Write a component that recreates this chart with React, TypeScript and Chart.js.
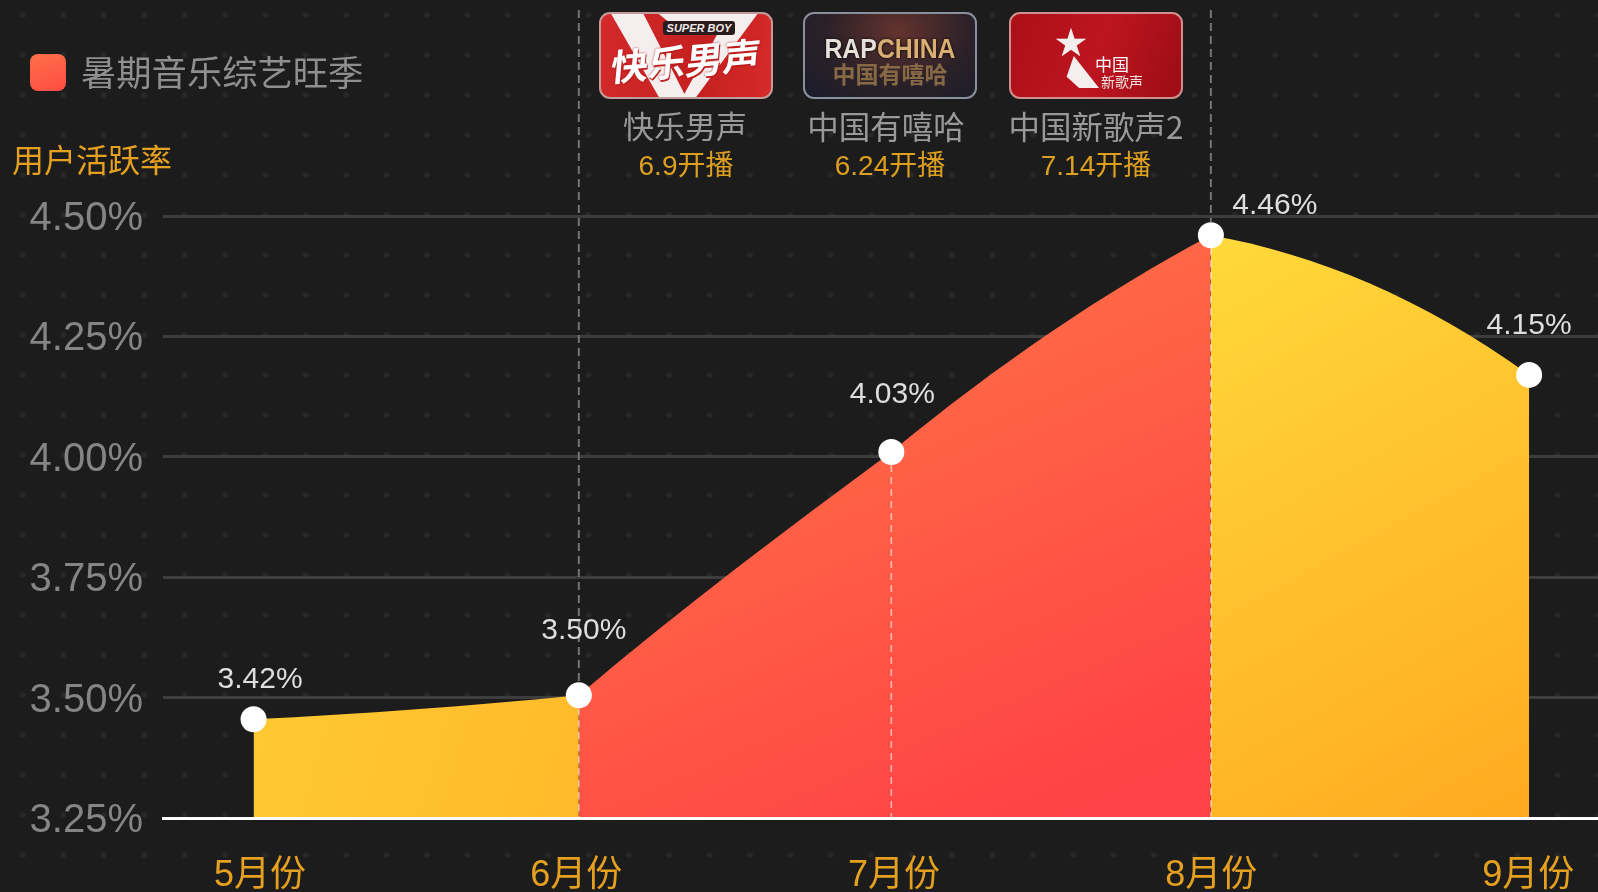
import React, { useEffect, useRef } from "react";
import { Chart, registerables } from "chart.js";

Chart.register(...registerables);

// ---- data ----
const categories = ["5月份", "6月份", "7月份", "8月份", "9月份"];
const monthPositions = [5, 6.02, 7, 8.002, 9];
const tickPositions = [5.02, 6.012, 7.008, 8.003, 8.997];
const activeRates = [3.455, 3.505, 4.01, 4.46, 4.17];
const rateLabels = ["3.42%", "3.50%", "4.03%", "4.46%", "4.15%"];
const shows = ["快乐男声", "中国有嘻哈", "中国新歌声2"];
const showDates = ["6.9开播", "6.24开播", "7.14开播"];
const legendLabel = "暑期音乐综艺旺季";
const yAxisTitle = "用户活跃率";

// ---- curve shape: slope of the area's edge arriving at / leaving each point ----
const slopeIn = [0, -0.1, -0.74, -0.53, 0.72];
const slopeOut = [-0.05, -0.85, -0.82, 0.18, 0];

// ---- layout ----
const labelOffsets = [[6.5, -40], [5, -64], [1, -57], [64, -30], [0, -49]];
const NUM = '"Liberation Sans", "Noto Sans CJK SC", sans-serif';
const CJK = '"Noto Sans CJK SC", sans-serif';

const curvePlugin = {
  id: "curve",
  afterDatasetsUpdate(chart: any) {
    const meta = chart.getDatasetMeta(0);
    const pts = meta.data;
    pts.forEach((p: any, i: number) => {
      const prev = pts[i - 1];
      const next = pts[i + 1];
      const dxP = prev ? (p.x - prev.x) / 3 : 0;
      const dxN = next ? (next.x - p.x) / 3 : 0;
      p.cp1x = p.x - dxP;
      p.cp1y = p.y - dxP * slopeIn[i];
      p.cp2x = p.x + dxN;
      p.cp2y = p.y + dxN * slopeOut[i];
    });
    meta.dataset._pointsUpdated = true;
  },
};

const overlayPlugin = {
  id: "overlay",
  afterDatasetsDraw(chart: any) {
    const { ctx, scales } = chart;
    const pts = chart.getDatasetMeta(0).data;
    const base = scales.y.getPixelForValue(3.25);
    const R = 13;
    ctx.save();
    [
      [1, true],
      [2, false],
      [3, true],
    ].forEach(([i, up]: any) => {
      const p = pts[i];
      if (up) {
        ctx.lineWidth = 2;
        ctx.setLineDash([8, 5]);
        ctx.strokeStyle = "#747474";
        ctx.beginPath();
        ctx.moveTo(p.x, 10);
        ctx.lineTo(p.x, p.y - R);
        ctx.stroke();
      }
      ctx.lineWidth = 1.5;
      ctx.setLineDash([7, 5]);
      ctx.strokeStyle = "rgba(255,255,255,0.6)";
      ctx.beginPath();
      ctx.moveTo(p.x, p.y + R);
      ctx.lineTo(p.x, base);
      ctx.stroke();
    });
    ctx.setLineDash([]);
    ctx.fillStyle = "#dedede";
    ctx.font = `30px ${NUM}`;
    ctx.textAlign = "center";
    ctx.textBaseline = "middle";
    rateLabels.forEach((t, i) => {
      ctx.fillText(t, pts[i].x + labelOffsets[i][0], pts[i].y + labelOffsets[i][1]);
    });
    ctx.restore();
  },
};

const abs = (o: React.CSSProperties): React.CSSProperties => ({ position: "absolute", ...o });

function centerText(text: string, cx: number, cy: number, size: number, color: string, font = CJK) {
  return (
    <div
      key={text}
      style={abs({
        left: cx - 150,
        width: 300,
        top: cy - size,
        height: size * 2,
        lineHeight: `${size * 2}px`,
        textAlign: "center",
        fontSize: size,
        color,
        fontFamily: font,
        whiteSpace: "nowrap",
      })}
    >
      {text}
    </div>
  );
}

const posterBase: React.CSSProperties = {
  position: "absolute",
  top: 12,
  width: 174,
  height: 87,
  borderRadius: 11,
  border: "2px solid #c49a9a",
  overflow: "hidden",
  boxSizing: "border-box",
};
const full: React.CSSProperties = { position: "absolute", left: 0, top: 0, width: "100%", height: "100%" };

function Posters() {
  return (
    <>
      <div style={{ ...posterBase, left: 599, background: "linear-gradient(100deg,#d32a2c,#c4201f 60%,#d62b2a)" }}>
        <div style={{ ...full, background: "#f4eeee", clipPath: "polygon(6% 0,25% 0,50% 100%,34% 100%)" }} />
        <div style={{ ...full, background: "#f4eeee", clipPath: "polygon(75% 0,92% 0,56% 100%,48% 100%)" }} />
        <div style={{ ...full, background: "#f4eeee", clipPath: "polygon(34% 0,90% 0,84% 10%,40% 10%)" }} />
        <div style={abs({ left: 62, top: 7, width: 72, height: 14, lineHeight: "14px", borderRadius: 3, background: "#2a1c1c", color: "#f2eaea", fontSize: 11, fontWeight: 700, fontStyle: "italic", textAlign: "center", fontFamily: NUM, whiteSpace: "nowrap" })}>SUPER BOY</div>
        <div style={abs({ left: 0, top: 20, width: "100%", lineHeight: "50px", color: "#fff", fontSize: 37, fontWeight: 700, textAlign: "center", fontFamily: CJK, whiteSpace: "nowrap", transform: "skewX(-10deg) rotate(-5deg)", textShadow: "0 0 2px #b01818, 1px 2px 0 #c02020" })}>快乐男声</div>
      </div>
      <div style={{ ...posterBase, left: 803, background: "radial-gradient(ellipse at 55% 20%,#64332e,#2b2128 55%,#1a1c2a 100%)", borderColor: "#8a8f9c" }}>
        <div style={abs({ left: 0, top: 21, width: "100%", textAlign: "center", color: "#e6e2da", fontSize: 27, lineHeight: "28px", fontWeight: 700, fontFamily: NUM, whiteSpace: "nowrap", transform: "scaleX(0.92)", textShadow: "0 0 3px #000" })}>RAP<span style={{ color: "#d8ae72" }}>CHINA</span></div>
        <div style={abs({ left: 0, top: 44, width: "100%", textAlign: "center", color: "#876a45", fontSize: 23, lineHeight: "30px", fontWeight: 700, fontFamily: CJK, whiteSpace: "nowrap" })}>中国有嘻哈</div>
      </div>
      <div style={{ ...posterBase, left: 1009, background: "linear-gradient(110deg,#ac0f18,#bd1520 50%,#9c0c14)", borderColor: "#cf8f8f" }}>
        <div style={abs({ left: 44, top: 8, fontSize: 32, lineHeight: "36px", color: "#f4eeee", fontFamily: CJK })}>★</div>
        <div style={abs({ left: 52, top: 42, width: 36, height: 32, background: "#f4eeee", clipPath: "polygon(30% 0,100% 100%,45% 100%,10% 65%)" })} />
        <div style={abs({ left: 84, top: 40, fontSize: 17, lineHeight: "20px", color: "#fff", fontFamily: CJK, whiteSpace: "nowrap" })}>中国</div>
        <div style={abs({ left: 90, top: 58, fontSize: 14, lineHeight: "18px", color: "#f0e0e0", fontFamily: CJK, whiteSpace: "nowrap" })}>新歌声</div>
      </div>
    </>
  );
}

export default function App() {
  const ref = useRef<HTMLCanvasElement>(null);

  useEffect(() => {
    document.body.style.margin = "0";
    const grads: Record<string, CanvasGradient> = {};
    const segFill = (c: any) => {
      const chart = c.chart;
      const i = c.p0DataIndex;
      const key = i === 0 ? "a" : i === 3 ? "c" : "b";
      if (!grads[key]) {
        const { x, y } = chart.scales;
        const base = y.getPixelForValue(3.25);
        const top = y.getPixelForValue(activeRates[3]);
        const px = (k: number) => x.getPixelForValue(monthPositions[k]);
        let g: CanvasGradient;
        if (key === "a") {
          g = chart.ctx.createLinearGradient(px(0), y.getPixelForValue(activeRates[0]), px(1), base);
          g.addColorStop(0, "#ffc932");
          g.addColorStop(1, "#ffba2a");
        } else if (key === "b") {
          g = chart.ctx.createLinearGradient(px(3) - 410, top + 15, px(3) - 160, base);
          g.addColorStop(0, "#ff7346");
          g.addColorStop(1, "#ff4245");
        } else {
          g = chart.ctx.createLinearGradient(px(3), top, px(4), base);
          g.addColorStop(0, "#ffd93a");
          g.addColorStop(1, "#ffaa20");
        }
        grads[key] = g;
      }
      return grads[key];
    };

    const chart = new Chart(ref.current!, {
      type: "line",
      data: {
        datasets: [
          {
            data: activeRates.map((v, i) => ({ x: monthPositions[i], y: v })),
            fill: "start",
            tension: 0.3,
            borderWidth: 0,
            borderColor: "rgba(0,0,0,0)",
            backgroundColor: "#ffc030",
            pointRadius: 13,
            pointBackgroundColor: "#ffffff",
            pointBorderWidth: 0,
            clip: false,
            segment: { backgroundColor: segFill },
          } as any,
        ],
      },
      options: {
        responsive: false,
        animation: false,
        events: [],
        layout: { autoPadding: false, padding: { top: 216, left: 0, right: 0, bottom: 0 } },
        plugins: { legend: { display: false }, tooltip: { enabled: false } },
        scales: {
          x: {
            type: "linear",
            min: 4.716,
            max: 9.216,
            afterBuildTicks: (s: any) => {
              s.ticks = tickPositions.map((value) => ({ value }));
            },
            afterFit: (s: any) => {
              s.height = 74;
              s.paddingLeft = 0;
              s.paddingRight = 0;
            },
            grid: { display: false },
            border: { display: true, color: "#ffffff", width: 3, z: 1 },
            ticks: {
              autoSkip: false,
              maxRotation: 0,
              padding: 28,
              color: "#e5a020",
              font: { family: NUM, size: 36 },
              callback: (_v: any, i: number) => categories[i],
            },
          },
          y: {
            min: 3.25,
            max: 4.5,
            afterFit: (s: any) => {
              s.width = 163;
              s.paddingTop = 0;
              s.paddingBottom = 0;
            },
            grid: {
              drawTicks: false,
              lineWidth: 3,
              color: (c: any) => (c.tick && c.tick.value === 3.25 ? "rgba(0,0,0,0)" : "#3d3d3d"),
            },
            border: { display: false },
            ticks: {
              stepSize: 0.25,
              padding: 20,
              labelOffset: 3,
              color: "#858585",
              font: { family: NUM, size: 40 },
              callback: (v: any) => Number(v).toFixed(2) + "%",
            },
          },
        },
      },
      plugins: [curvePlugin, overlayPlugin],
    } as any);
    return () => chart.destroy();
  }, []);

  return (
    <div
      style={{
        position: "fixed",
        left: 0,
        top: 0,
        width: 1598,
        height: 892,
        overflow: "hidden",
        backgroundColor: "#1c1c1c",
        backgroundImage: "radial-gradient(circle, #282828 0, #282828 2px, rgba(0,0,0,0) 3.5px)",
        backgroundSize: "40.4px 40px",
        backgroundPosition: "2.8px -5px",
      }}
    >
      <canvas ref={ref} width={1598} height={892} style={{ position: "absolute", left: 0, top: 0, display: "block" }} />
      <div style={abs({ left: 30, top: 54, width: 36, height: 37, borderRadius: 8, background: "linear-gradient(160deg,#ff7048,#ff4c44)" })} />
      <div style={abs({ left: 81, top: 49, height: 44, lineHeight: "44px", fontSize: 35.3, color: "#8f8f8f", fontFamily: CJK, whiteSpace: "nowrap" })}>{legendLabel}</div>
      <div style={abs({ left: 12, top: 138, height: 40, lineHeight: "40px", fontSize: 32, color: "#e5a020", fontFamily: CJK, whiteSpace: "nowrap" })}>{yAxisTitle}</div>
      <Posters />
      {centerText(shows[0], 685, 125, 31, "#999999")}
      {centerText(shows[1], 886, 125, 31.5, "#999999")}
      {centerText(shows[2], 1096, 125, 31.5, "#999999")}
      {centerText(showDates[0], 686, 166, 28, "#dd9f20", NUM)}
      {centerText(showDates[1], 890, 166, 28, "#dd9f20", NUM)}
      {centerText(showDates[2], 1096, 166, 28, "#dd9f20", NUM)}
    </div>
  );
}
